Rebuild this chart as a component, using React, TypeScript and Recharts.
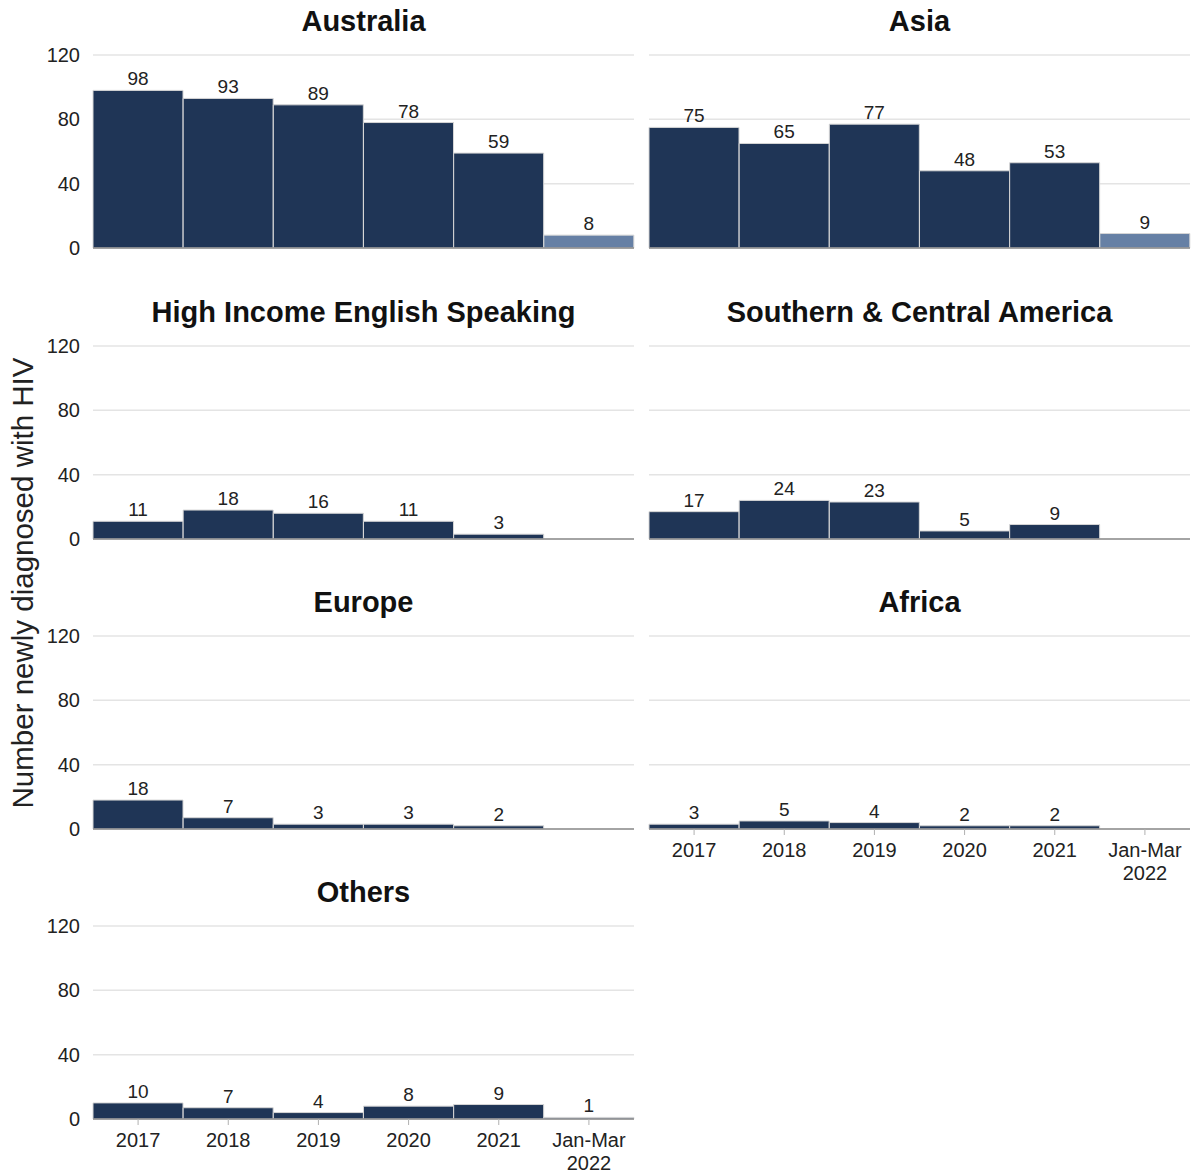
import React from 'react';
import { BarChart, Bar, XAxis, YAxis, CartesianGrid, LabelList, Cell } from 'recharts';

// Reporting periods shared by every region panel
const categories = ['2017', '2018', '2019', '2020', '2021', 'Jan-Mar 2022'];

// Newly diagnosed HIV counts by region of birth
const australia = [98, 93, 89, 78, 59, 8];
const asia = [75, 65, 77, 48, 53, 9];
const highIncomeEnglish = [11, 18, 16, 11, 3, null];
const southCentralAmerica = [17, 24, 23, 5, 9, null];
const europe = [18, 7, 3, 3, 2, null];
const africa = [3, 5, 4, 2, 2, null];
const others = [10, 7, 4, 8, 9, 1];

const yTicks = [0, 40, 80, 120];

const FONT = '"Liberation Sans", Arial, Helvetica, sans-serif';
const DARK = '#1f3556';
const LIGHT = '#6680a5';
const PARTIAL = 'Jan-Mar 2022';

type Row = { period: string; value: number | null };

const toRows = (values: (number | null)[]): Row[] =>
  categories.map((c, i) => ({ period: c, value: values[i] }));

const rowTops = [0, 291, 581, 871];
const PLOT_TOP = 55;
const PLOT_H = 193;

function PeriodTick(props: any) {
  const { x, y, payload } = props;
  const lines = String(payload.value).split(' ');
  return (
    <text x={x} y={y} textAnchor="middle" fontFamily={FONT} fontSize={20} fill="#222">
      {lines.map((ln, i) => (
        <tspan key={i} x={x} dy={i === 0 ? 20 : 23}>
          {ln}
        </tspan>
      ))}
    </text>
  );
}

function Panel(props: {
  title: string;
  values: (number | null)[];
  col: number;
  row: number;
  showX: boolean;
}) {
  const { title, values, col, row, showX } = props;
  const data = toRows(values);
  const left = col === 0 ? 0 : 640;
  const width = col === 0 ? 640 : 554;
  const xAxisH = showX ? 60 : 2;
  const height = showX ? 310 : 260;
  const margin = {
    top: PLOT_TOP,
    right: col === 0 ? 6 : 4,
    left: col === 0 ? 33 : 9,
    bottom: height - PLOT_TOP - PLOT_H - xAxisH,
  };
  const centre = col === 0 ? 363.5 : 919.5;
  const top = rowTops[row];
  return (
    <>
      <div
        style={{
          position: 'absolute',
          left: centre - 300,
          width: 600,
          top: top + 4,
          textAlign: 'center',
          fontFamily: FONT,
          fontWeight: 'bold',
          fontSize: 29,
          lineHeight: '34px',
          color: '#111',
        }}
      >
        {title}
      </div>
      <div style={{ position: 'absolute', left, top }}>
        <BarChart width={width} height={height} data={data} margin={margin} barCategoryGap={0} barGap={0}>
          <CartesianGrid vertical={false} stroke="#e4e4e4" strokeWidth={1.5} />
          <XAxis
            dataKey="period"
            interval={0}
            height={xAxisH}
            axisLine={{ stroke: '#8c8c8c', strokeWidth: 1.5 }}
            tickLine={showX ? { stroke: '#b0b0b0' } : false}
            tickSize={6}
            tick={showX ? <PeriodTick /> : false}
          />
          <YAxis
            domain={[0, 120]}
            ticks={yTicks}
            hide={col !== 0}
            width={60}
            axisLine={false}
            tickLine={false}
            tickMargin={7}
            tick={{ fontFamily: FONT, fontSize: 20, fill: '#222' }}
          />
          <Bar dataKey="value" isAnimationActive={false} stroke="#d6d6d6" strokeWidth={1}>
            {data.map((d, i) => (
              <Cell key={i} fill={d.period === PARTIAL ? LIGHT : DARK} />
            ))}
            <LabelList
              dataKey="value"
              position="top"
              offset={5}
              style={{ fontFamily: FONT, fontSize: 19, fill: '#222' }}
            />
          </Bar>
        </BarChart>
      </div>
    </>
  );
}

export default function App() {
  return (
    <div
      style={{
        position: 'absolute',
        left: 0,
        top: 0,
        width: 1194,
        height: 1173,
        background: '#fff',
        fontFamily: FONT,
      }}
    >
      <Panel title="Australia" values={australia} col={0} row={0} showX={false} />
      <Panel title="Asia" values={asia} col={1} row={0} showX={false} />
      <Panel title="High Income English Speaking" values={highIncomeEnglish} col={0} row={1} showX={false} />
      <Panel title="Southern & Central America" values={southCentralAmerica} col={1} row={1} showX={false} />
      <Panel title="Europe" values={europe} col={0} row={2} showX={false} />
      <Panel title="Africa" values={africa} col={1} row={2} showX={true} />
      <Panel title="Others" values={others} col={0} row={3} showX={true} />
      <svg
        width={50}
        height={1173}
        style={{ position: 'absolute', left: 0, top: 0 }}
      >
        <text
          x={0}
          y={0}
          transform="translate(33, 583) rotate(-90)"
          textAnchor="middle"
          fontFamily={FONT}
          fontSize={29.5}
          fill="#222"
        >
          Number newly diagnosed with HIV
        </text>
      </svg>
    </div>
  );
}
